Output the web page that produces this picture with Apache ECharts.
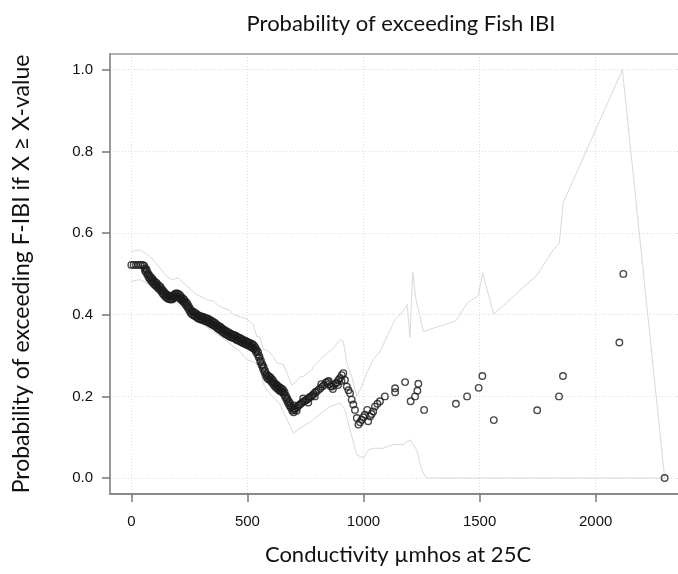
<!DOCTYPE html>
<html>
<head>
<meta charset="utf-8">
<script src="https://cdn.jsdelivr.net/npm/echarts@6/dist/echarts.min.js"></script>
<style>
  html, body { margin: 0; padding: 0; background: #fff; }
  #chart { width: 678px; height: 574px; }
</style>
</head>
<body>
<div id="chart"></div>
<script>
  // observed points: conductivity vs probability of exceeding F-IBI
  const conductivity = [
    0, 10, 20, 30, 40, 48, 55, 60, 66, 72, 78, 84, 90, 96, 102, 108, 114, 120, 126, 132,
    138, 144, 150, 156, 162, 168, 174, 180, 186, 192, 198, 204, 210, 216, 222, 228, 234, 240, 246, 252,
    258, 264, 270, 276, 282, 288, 294, 300, 306, 312, 318, 324, 330, 336, 342, 348, 354, 360, 366, 372,
    378, 384, 390, 396, 402, 408, 414, 420, 426, 432, 438, 444, 450, 456, 462, 468, 474, 480, 486, 492,
    498, 504, 510, 516, 522, 528, 534, 540, 546, 552, 558, 564, 570, 576, 582, 588, 594, 600, 606, 612,
    618, 624, 630, 636, 642, 648, 654, 660, 666, 672, 678, 684, 690, 696, 702, 708, 714, 720, 726, 732,
    738, 744, 750, 756, 762, 768, 774, 780, 786, 792, 798, 806, 814, 822, 830, 838, 846, 852, 858, 864,
    872, 880, 886, 892, 899, 906, 913, 920, 928, 935, 942, 949, 956, 963, 971, 978, 985, 992, 999, 1006,
    1016, 1020, 1028, 1035, 1042, 1049, 1060, 1071, 1092, 1136, 1136, 1179, 1203, 1222, 1232, 1236, 1261,
    1398, 1446, 1496, 1512, 1561, 1748, 1842, 1859, 2102, 2119, 2297,
    700, 712, 740, 762, 790, 818, 850, 868, 890, 905
  ];
  const probExceed = [
    0.522, 0.522, 0.522, 0.522, 0.522, 0.522, 0.520, 0.514, 0.510, 0.502, 0.496, 0.492, 0.488, 0.484, 0.480, 0.478, 0.474, 0.470, 0.468, 0.462,
    0.458, 0.454, 0.450, 0.448, 0.446, 0.445, 0.445, 0.447, 0.450, 0.452, 0.452, 0.450, 0.448, 0.443, 0.440, 0.437, 0.432, 0.428, 0.422, 0.416,
    0.410, 0.408, 0.406, 0.404, 0.401, 0.399, 0.397, 0.396, 0.395, 0.394, 0.392, 0.391, 0.390, 0.388, 0.386, 0.384, 0.382, 0.380, 0.377, 0.374,
    0.372, 0.370, 0.367, 0.364, 0.362, 0.360, 0.358, 0.356, 0.354, 0.352, 0.351, 0.350, 0.348, 0.346, 0.344, 0.343, 0.341, 0.339, 0.337, 0.336,
    0.334, 0.332, 0.331, 0.329, 0.327, 0.325, 0.320, 0.314, 0.308, 0.298, 0.288, 0.279, 0.272, 0.263, 0.255, 0.251, 0.249, 0.246, 0.242, 0.237,
    0.232, 0.229, 0.226, 0.223, 0.221, 0.219, 0.216, 0.210, 0.202, 0.195, 0.188, 0.183, 0.176, 0.170, 0.167, 0.170, 0.174, 0.178, 0.180, 0.183,
    0.186, 0.188, 0.190, 0.192, 0.195, 0.198, 0.200, 0.203, 0.206, 0.210, 0.212, 0.216, 0.220, 0.224, 0.228, 0.234, 0.236, 0.230, 0.225, 0.224,
    0.228, 0.232, 0.234, 0.240, 0.245, 0.252, 0.257, 0.240, 0.224, 0.215, 0.208, 0.192, 0.180, 0.167, 0.147, 0.131, 0.137, 0.143, 0.149, 0.155,
    0.167, 0.139, 0.151, 0.157, 0.163, 0.175, 0.182, 0.188, 0.200, 0.210, 0.220, 0.235, 0.188, 0.200, 0.214, 0.231, 0.167,
    0.182, 0.200, 0.221, 0.250, 0.142, 0.166, 0.200, 0.250, 0.332, 0.500, 0.000,
    0.178, 0.165, 0.195, 0.185, 0.200, 0.230, 0.238, 0.218, 0.228, 0.238
  ];

  // lower edge of the dense band of overlapping points
  const bandX = [
    58, 63, 69, 75, 81, 87, 93, 99, 105, 111, 117, 123, 129, 135, 141, 147, 153, 159, 165, 171,
    177, 183, 189, 195, 201, 207, 213, 219, 225, 231, 237, 243, 249, 255, 261, 267, 273, 279, 285, 291,
    297, 303, 309, 315, 321, 327, 333, 339, 345, 351, 357, 363, 369, 375, 381, 387, 393, 399, 405, 411,
    417, 423, 429, 435, 441, 447, 453, 459, 465, 471, 477, 483, 489, 495, 501, 507, 513, 519, 525, 531,
    537, 543, 549, 555, 561, 567, 573, 579, 585, 591, 597, 603, 609, 615, 621, 627, 633, 639, 645, 651,
    657, 663, 669, 675, 681, 687, 693, 699
  ];
  const bandY = [
    0.509, 0.504, 0.498, 0.491, 0.486, 0.482, 0.478, 0.474, 0.471, 0.468, 0.464, 0.461, 0.457, 0.452, 0.448, 0.444, 0.441, 0.439, 0.438, 0.437,
    0.438, 0.441, 0.443, 0.444, 0.443, 0.441, 0.438, 0.434, 0.431, 0.427, 0.422, 0.417, 0.411, 0.405, 0.401, 0.399, 0.397, 0.395, 0.392, 0.390,
    0.389, 0.388, 0.387, 0.385, 0.384, 0.383, 0.381, 0.379, 0.377, 0.375, 0.373, 0.371, 0.368, 0.365, 0.363, 0.361, 0.358, 0.355, 0.353, 0.351,
    0.349, 0.347, 0.345, 0.344, 0.343, 0.341, 0.339, 0.337, 0.336, 0.334, 0.332, 0.330, 0.329, 0.327, 0.325, 0.324, 0.322, 0.320, 0.318, 0.315,
    0.309, 0.303, 0.295, 0.285, 0.276, 0.268, 0.260, 0.251, 0.245, 0.242, 0.240, 0.236, 0.232, 0.227, 0.223, 0.220, 0.217, 0.214, 0.212, 0.210,
    0.205, 0.198, 0.191, 0.184, 0.178, 0.172, 0.165, 0.161
  ];

  // upper confidence bound
  const upperX = [
    0, 37, 80, 124, 152, 174, 202, 224, 282, 325, 353, 382, 425, 439, 497, 526, 540, 554, 569, 583,
    612, 626, 655, 683, 691, 705, 727, 741, 777, 784, 813, 827, 870, 899, 913, 928, 949, 971, 992, 1014,
    1042, 1071, 1136, 1165, 1188, 1200, 1212, 1225, 1258, 1371, 1398, 1447, 1494, 1513, 1561, 1631, 1748, 1817, 1843, 1860,
    2115, 2119, 2297
  ];
  const upperY = [
    0.555, 0.559, 0.543, 0.514, 0.494, 0.486, 0.490, 0.478, 0.449, 0.437, 0.433, 0.420, 0.410, 0.400, 0.390, 0.375, 0.347, 0.345, 0.314, 0.314,
    0.298, 0.282, 0.278, 0.240, 0.228, 0.233, 0.249, 0.249, 0.265, 0.273, 0.290, 0.298, 0.318, 0.339, 0.335, 0.282, 0.249, 0.200, 0.224, 0.257,
    0.290, 0.310, 0.388, 0.405, 0.425, 0.345, 0.505, 0.440, 0.359, 0.380, 0.385, 0.429, 0.446, 0.502, 0.402, 0.437, 0.498, 0.559, 0.574, 0.674,
    1.000, 1.000, 0.000
  ];

  // lower confidence bound
  const lowerX = [
    0, 37, 80, 124, 152, 188, 217, 253, 296, 353, 411, 468, 497, 526, 554, 562, 569, 583, 640, 698,
    727, 784, 827, 856, 899, 920, 942, 971, 999, 1021, 1042, 1085, 1128, 1171, 1200, 1229, 1251, 1270, 2297
  ];
  const lowerY = [
    0.482, 0.486, 0.473, 0.449, 0.433, 0.429, 0.433, 0.408, 0.380, 0.359, 0.335, 0.310, 0.290, 0.285, 0.273, 0.249, 0.230, 0.216, 0.180, 0.110,
    0.122, 0.143, 0.163, 0.175, 0.184, 0.167, 0.118, 0.057, 0.049, 0.069, 0.073, 0.073, 0.082, 0.082, 0.094, 0.069, 0.020, 0.000, 0.000
  ];

  const xTicks = [0, 500, 1000, 1500, 2000];
  const yTicks = [0, 0.2, 0.4, 0.6, 0.8, 1.0];

  function zip(xs, ys){
    return xs.map((x, i)=>[x, ys[i]]);
  }

  const chart = echarts.init(document.getElementById('chart'), null, { renderer: 'canvas' });

  const gridLine = { lineStyle: { color: '#dcdcdc', width: 1, type: [1, 2] } };
  const pointStyle = { color: 'rgba(0,0,0,0)', borderColor: '#1a1a1a', borderWidth: 1.4 };
  const titleFont = 'Lato';

  chart.setOption({
    animation: false,
    backgroundColor: '#fff',
    title: {
      text: 'Probability of exceeding Fish IBI',
      left: 396,
      top: 8,
      textAlign: 'center',
      textStyle: { fontFamily: titleFont, fontWeight: 'normal', fontSize: 22, color: '#111' }
    },
    grid: {
      left: 110, top: 54, right: -8, bottom: 80,
      containLabel: false,
      outerBoundsMode: 'none'
    },
    xAxis: [
      {
        type: 'value',
        min: -92, max: 2389,
        name: 'Conductivity µmhos at 25C',
        nameLocation: 'middle',
        nameGap: 50,
        nameTextStyle: { fontFamily: titleFont, fontSize: 22, color: '#111' },
        axisLine: { show: true, onZero: false, lineStyle: { color: '#888', width: 2 } },
        axisTick: { show: true, length: 8, customValues: xTicks, lineStyle: { color: '#777', width: 1.5 } },
        axisLabel: {
          customValues: xTicks, margin: 20, fontFamily: 'Liberation Sans', fontSize: 15, color: '#111',
          formatter: (v)=>String(v)
        },
        splitLine: Object.assign({ show: true }, gridLine)
      },
      {
        type: 'value',
        position: 'top',
        min: -92, max: 2389,
        axisLine: { show: true, onZero: false, lineStyle: { color: '#999', width: 1.5 } },
        axisTick: { show: false },
        axisLabel: { show: false },
        splitLine: { show: false }
      }
    ],
    yAxis: {
      type: 'value',
      min: -0.039, max: 1.0385,
      name: 'Probability of exceeding F-IBI if X ≥ X-value',
      nameLocation: 'middle',
      nameGap: 77,
      nameRotate: 90,
      nameTextStyle: { fontFamily: titleFont, fontSize: 23, color: '#111' },
      axisLine: { show: true, onZero: false, lineStyle: { color: '#999', width: 2 } },
      axisTick: { show: true, length: 8, customValues: yTicks, lineStyle: { color: '#777', width: 1.5 } },
      axisLabel: {
        customValues: yTicks, margin: 17, fontFamily: 'Liberation Sans', fontSize: 15, color: '#111',
        formatter: (v)=>v.toFixed(1)
      },
      splitLine: Object.assign({ show: true }, gridLine)
    },
    series: [
      {
        name: 'upper',
        type: 'line',
        data: zip(upperX, upperY),
        showSymbol: false,
        lineStyle: { color: '#d9d9d9', width: 1 },
        z: 2
      },
      {
        name: 'lower',
        type: 'line',
        data: zip(lowerX, lowerY),
        showSymbol: false,
        lineStyle: { color: '#d9d9d9', width: 1 },
        z: 2
      },
      {
        name: 'band',
        type: 'scatter',
        data: zip(bandX, bandY),
        symbol: 'circle',
        symbolSize: 6.5,
        itemStyle: pointStyle,
        z: 3
      },
      {
        name: 'observed',
        type: 'scatter',
        data: zip(conductivity, probExceed),
        symbol: 'circle',
        symbolSize: 6.5,
        itemStyle: pointStyle,
        z: 3
      }
    ]
  });
</script>
</body>
</html>
